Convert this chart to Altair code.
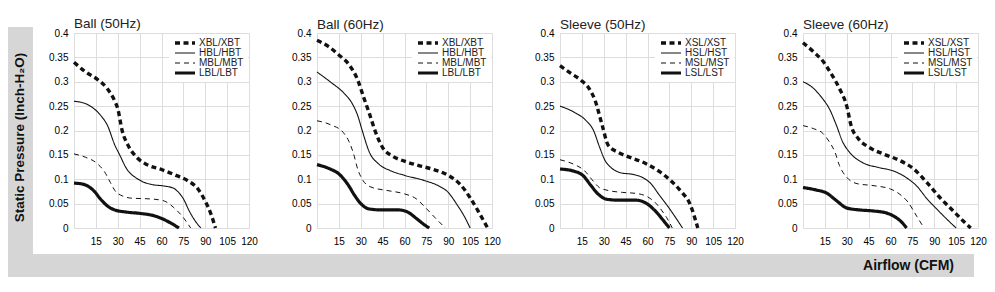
import altair as alt
import pandas as pd

FONT = "Liberation Sans"

titles = ["Ball (50Hz)", "Ball (60Hz)", "Sleeve (50Hz)", "Sleeve (60Hz)"]
ball_names = ["XBL/XBT", "HBL/HBT", "MBL/MBT", "LBL/LBT"]
sleeve_names = ["XSL/XST", "HSL/HST", "MSL/MST", "LSL/LST"]

x_ticks = [15, 30, 45, 60, 75, 90, 105, 120]
y_ticks = [0, 0.05, 0.1, 0.15, 0.2, 0.25, 0.3, 0.35, 0.4]

# ---- Ball (50Hz)
b50_x_cfm = [0, 8, 16, 23, 28, 30, 33, 37, 43, 50, 60, 70, 78, 85, 90, 94, 97]
b50_x_p = [0.34, 0.32, 0.305, 0.285, 0.26, 0.245, 0.2, 0.17, 0.145, 0.13, 0.12, 0.108, 0.097, 0.08, 0.055, 0.028, 0.0]
b50_h_cfm = [0, 8, 14, 18, 23, 28, 31, 36, 44, 52, 62, 68, 72, 75, 79, 83, 87]
b50_h_p = [0.26, 0.255, 0.244, 0.232, 0.21, 0.17, 0.152, 0.122, 0.1, 0.09, 0.086, 0.082, 0.072, 0.06, 0.035, 0.015, 0.0]
b50_m_cfm = [0, 8, 16, 21, 25, 28, 33, 40, 50, 58, 63, 68, 74, 80]
b50_m_p = [0.152, 0.145, 0.132, 0.115, 0.093, 0.077, 0.066, 0.061, 0.06, 0.058, 0.054, 0.043, 0.025, 0.0]
b50_l_cfm = [0, 6, 10, 14, 18, 23, 28, 35, 45, 55, 62, 67, 72]
b50_l_p = [0.092, 0.09, 0.085, 0.075, 0.06, 0.045, 0.037, 0.033, 0.03, 0.025, 0.017, 0.009, 0.0]

# ---- Ball (60Hz)
b60_x_cfm = [0, 8, 15, 22, 28, 32, 36, 40, 45, 52, 60, 70, 80, 90, 98, 105, 111, 117]
b60_x_p = [0.385, 0.372, 0.355, 0.335, 0.303, 0.268, 0.234, 0.198, 0.165, 0.147, 0.137, 0.128, 0.12, 0.108, 0.09, 0.062, 0.032, 0.0]
b60_h_cfm = [0, 9, 18, 24, 28, 31, 36, 42, 50, 60, 74, 83, 90, 96, 101, 105]
b60_h_p = [0.32, 0.3, 0.278, 0.256, 0.23, 0.2, 0.155, 0.132, 0.118, 0.108, 0.097, 0.087, 0.073, 0.048, 0.024, 0.0]
b60_m_cfm = [0, 10, 18, 22, 25, 28, 31, 37, 48, 60, 68, 74, 81, 88]
b60_m_p = [0.22, 0.211, 0.196, 0.177, 0.153, 0.12, 0.1, 0.084, 0.077, 0.07, 0.06, 0.043, 0.021, 0.0]
b60_l_cfm = [0, 9, 15, 21, 26, 30, 36, 45, 56, 62, 68, 73, 77]
b60_l_p = [0.13, 0.121, 0.111, 0.09, 0.066, 0.05, 0.039, 0.037, 0.037, 0.033, 0.02, 0.008, 0.0]

# ---- Sleeve (50Hz)
s50_x_cfm = [0, 7, 14, 20, 24, 29, 33, 40, 48, 59, 68, 76, 83, 89, 94.5]
s50_x_p = [0.333, 0.318, 0.304, 0.286, 0.262, 0.21, 0.17, 0.155, 0.145, 0.132, 0.116, 0.097, 0.075, 0.05, 0.0]
s50_h_cfm = [0, 10, 18, 23, 27, 31, 35, 42, 50, 57, 62, 68, 75, 84]
s50_h_p = [0.25, 0.237, 0.22, 0.2, 0.167, 0.138, 0.124, 0.113, 0.11, 0.103, 0.092, 0.068, 0.04, 0.0]
s50_m_cfm = [0, 10, 17, 22, 27, 33, 43, 52, 60, 66, 70, 73, 77]
s50_m_p = [0.14, 0.13, 0.117, 0.099, 0.083, 0.077, 0.073, 0.071, 0.064, 0.05, 0.035, 0.022, 0.0]
s50_l_cfm = [0, 9, 16, 21, 26, 32, 41, 52, 59, 65, 71, 75]
s50_l_p = [0.121, 0.117, 0.107, 0.088, 0.07, 0.059, 0.057, 0.057, 0.051, 0.036, 0.015, 0.0]

# ---- Sleeve (60Hz)
s60_x_cfm = [0, 7, 14, 19, 25, 30, 33, 38, 45, 55, 66, 76, 85, 94, 103, 110, 115]
s60_x_p = [0.38, 0.362, 0.341, 0.318, 0.286, 0.25, 0.21, 0.183, 0.166, 0.152, 0.139, 0.121, 0.093, 0.062, 0.035, 0.014, 0.0]
s60_h_cfm = [0, 7, 13, 18, 23, 27, 32, 41, 52, 62, 71, 78, 85, 92, 99, 105]
s60_h_p = [0.3, 0.287, 0.267, 0.245, 0.21, 0.178, 0.155, 0.134, 0.124, 0.117, 0.103, 0.086, 0.06, 0.038, 0.017, 0.0]
s60_m_cfm = [0, 7, 14, 18, 22, 25, 30, 37, 48, 60, 66, 72, 78, 83]
s60_m_p = [0.21, 0.204, 0.193, 0.177, 0.155, 0.128, 0.104, 0.091, 0.087, 0.08, 0.07, 0.053, 0.024, 0.0]
s60_l_cfm = [0, 9, 16, 23, 30, 39, 48, 57, 64, 68, 71]
s60_l_p = [0.083, 0.078, 0.072, 0.056, 0.041, 0.037, 0.035, 0.031, 0.021, 0.011, 0.0]

panels = [
    (titles[0], ball_names, [(b50_x_cfm, b50_x_p), (b50_h_cfm, b50_h_p), (b50_m_cfm, b50_m_p), (b50_l_cfm, b50_l_p)]),
    (titles[1], ball_names, [(b60_x_cfm, b60_x_p), (b60_h_cfm, b60_h_p), (b60_m_cfm, b60_m_p), (b60_l_cfm, b60_l_p)]),
    (titles[2], sleeve_names, [(s50_x_cfm, s50_x_p), (s50_h_cfm, s50_h_p), (s50_m_cfm, s50_m_p), (s50_l_cfm, s50_l_p)]),
    (titles[3], sleeve_names, [(s60_x_cfm, s60_x_p), (s60_h_cfm, s60_h_p), (s60_m_cfm, s60_m_p), (s60_l_cfm, s60_l_p)]),
]

y_title = "Static Pressure (Inch-H\u2082O)"
x_title = "Airflow (CFM)"

W, H = 175, 195
BAND = "#d6d6d6"

dash_range = [[5, 3.5], [1, 0], [5, 4], [1, 0]]
width_range = [3.4, 1.1, 1.0, 3.2]


def make_legend():
    return alt.Legend(
        title=None, orient="none", legendX=95, legendY=1,
        fillColor="white", padding=4, symbolType="stroke", symbolSize=400,
        symbolStrokeColor="#111", clipHeight=10, labelOffset=2,
        labelFontSize=10, labelFont=FONT, labelColor="#222", rowPadding=0,
    )


def panel(title, names, curves, idx):
    rows = []
    for name, (xs, ys) in zip(names, curves):
        for xv, yv in zip(xs, ys):
            rows.append({"series": name, "cfm": xv, "p": yv})
    df = pd.DataFrame(rows)
    lines = alt.Chart(df).mark_line(interpolate="monotone", color="#111").encode(
        x=alt.X("cfm:Q", scale=alt.Scale(domain=[0, 120], nice=False),
                axis=alt.Axis(values=x_ticks, title=None, ticks=False, domain=False,
                              labelPadding=8, labelFlush=False)),
        y=alt.Y("p:Q", scale=alt.Scale(domain=[0, 0.4], nice=False),
                axis=alt.Axis(values=y_ticks, format="~g", title=None, ticks=False,
                              domain=False, labelPadding=6, labelFlush=False)),
        strokeDash=alt.StrokeDash("series:N", scale=alt.Scale(type="ordinal", domain=names, range=dash_range),
                                  legend=make_legend()),
        strokeWidth=alt.StrokeWidth("series:N", scale=alt.Scale(type="ordinal", domain=names, range=width_range),
                                    legend=make_legend()),
    )
    layers = []
    one = pd.DataFrame({"k": [0]})
    if idx == 0:
        vband = alt.Chart(one).mark_rect(color=BAND).encode(
            x=alt.value(-66), x2=alt.value(-41), y=alt.value(-6), y2=alt.value(244))
        hband = alt.Chart(one).mark_rect(color=BAND).encode(
            x=alt.value(-66), x2=alt.value(900), y=alt.value(221), y2=alt.value(244))
        ytxt = alt.Chart(one).mark_text(
            text=y_title, angle=270, font=FONT, fontSize=13.5, fontWeight="bold",
            color="#111", align="center", baseline="middle").encode(
            x=alt.value(-54), y=alt.value(104.5))
        layers += [vband, hband, ytxt]
    if idx == 3:
        xtxt = alt.Chart(one).mark_text(
            text=x_title, font=FONT, fontSize=14, fontWeight="bold",
            color="#111", align="right", baseline="middle").encode(
            x=alt.value(151), y=alt.value(233))
        layers.append(xtxt)
    layers.append(lines)
    return alt.layer(*layers).properties(
        width=W, height=H,
        title=alt.TitleParams(title, anchor="start", frame="group", fontSize=13.5, fontWeight="normal",
                              font=FONT, color="#222", offset=-3),
    )


charts = [panel(t, n, c, i) for i, (t, n, c) in enumerate(panels)]

chart = alt.hconcat(*charts, spacing=68, bounds="flush").resolve_scale(
    strokeDash="independent", strokeWidth="independent"
).resolve_legend(
    strokeDash="independent", strokeWidth="independent"
).properties(
    padding={"left": 7, "top": 16, "right": 0, "bottom": 0}
).configure_view(
    stroke="#8a8a8a", strokeWidth=1
).configure_axis(
    grid=True, gridColor="#a0a0a0", gridOpacity=1, gridWidth=1,
    labelColor="#333", labelFont=FONT, labelFontSize=10.5,
).configure(background="white")

chart.save("out.html", embed_options={"renderer": "svg", "actions": False})
